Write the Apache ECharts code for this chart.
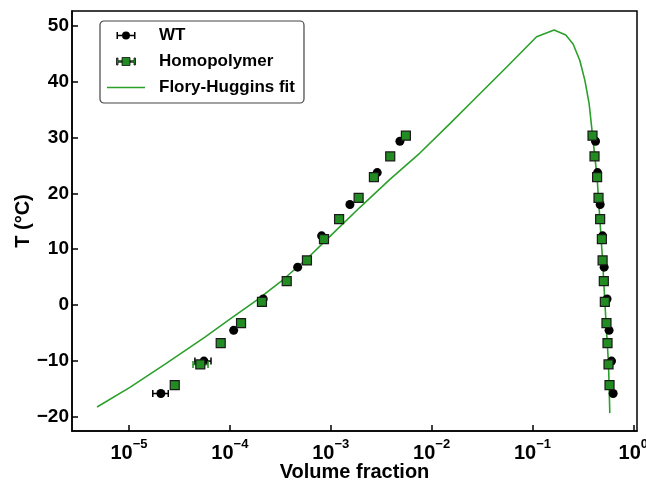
<!DOCTYPE html>
<html>
<head>
<meta charset="utf-8">
<script src="https://cdn.jsdelivr.net/npm/echarts@6/dist/echarts.min.js"></script>
<style>
  html, body { margin: 0; padding: 0; background: #fff; }
  #chart { width: 646px; height: 482px; }
</style>
</head>
<body>
<div id="chart"></div>
<script>
// --- data ---
const xTicks = [1e-5, 1e-4, 1e-3, 1e-2, 1e-1, 1];
const yTicks = [-20, -10, 0, 10, 20, 30, 40, 50];

// WT (black circles)
const wtT = [-15.8, -10.0, -4.5, 1.1, 6.8, 12.4, 18.0, 23.7, 29.3];
const wtDilute = [2.07e-5, 5.53e-5, 1.09e-4, 2.14e-4, 4.70e-4, 8.12e-4, 1.55e-3, 2.89e-3, 4.85e-3];
const wtDense = [0.631, 0.608, 0.575, 0.549, 0.514, 0.496, 0.469, 0.442, 0.422];
const wtErrLo = [1.72e-5, 4.5e-5];
const wtErrHi = [2.45e-5, 6.5e-5];

// Homopolymer (green squares)
const homoT = [-14.3, -10.6, -6.8, -3.2, 0.6, 4.3, 8.0, 11.8, 15.4, 19.2, 22.9, 26.6, 30.3];
const homoDilute = [2.84e-5, 5.09e-5, 8.11e-5, 1.29e-4, 2.08e-4, 3.66e-4, 5.81e-4, 8.57e-4, 1.21e-3, 1.89e-3, 2.68e-3, 3.89e-3, 5.56e-3];
const homoDense = [0.581, 0.568, 0.555, 0.542, 0.522, 0.510, 0.496, 0.488, 0.469, 0.452, 0.4375, 0.4125, 0.394];
const homoErrLo = [4.31e-5];
const homoErrHi = [6.07e-5];
const homoErrT = [-10.6];

// Flory-Huggins fit
const fitX = [4.82e-6, 1.02e-5, 2.28e-5, 5.66e-5, 1.0e-4, 1.85e-4, 3.14e-4, 5.81e-4, 9.82e-4, 1.95e-3, 3.86e-3,
  7.65e-3, 1.52e-2, 2.58e-2, 5.53e-2, 0.110, 0.164, 0.214, 0.253, 0.295, 0.331, 0.365, 0.394,
  0.4375, 0.496, 0.522, 0.568, 0.585];
const fitT = [-18.2, -14.7, -10.55, -5.7, -2.5, 0.9, 4.1, 8.3, 12.3, 17.5, 22.5,
  27.2, 32.45, 36.6, 42.55, 48.0, 49.2, 48.3, 46.7, 43.75, 40.2, 36.0, 30.4,
  22.8, 8.0, 0.6, -10.6, -19.3];

const FONT = 'Liberation Sans, Arial, sans-serif';
const GREEN = '#228b22';
const FIT_GREEN = '#2ca02c';

const pairs = (xs, ys) => xs.map((x, i) => [x, ys[i]]);
const wtPoints = pairs(wtDilute, wtT).concat(pairs(wtDense, wtT));
const homoPoints = pairs(homoDilute, homoT).concat(pairs(homoDense, homoT));
const wtErr = wtErrLo.map((lo, i) => [lo, wtErrHi[i], wtT[i]]);
const homoErr = homoErrLo.map((lo, i) => [lo, homoErrHi[i], homoErrT[i]]);

const errorBarItem = (color) => (params, api) => {
  const y = api.value(2);
  const a = api.coord([api.value(0), y]);
  const b = api.coord([api.value(1), y]);
  const c = 3.5;
  const style = { stroke: color, lineWidth: 1.5 };
  return {
    type: 'group',
    children: [
      { type: 'line', shape: { x1: a[0], y1: a[1], x2: b[0], y2: b[1] }, style },
      { type: 'line', shape: { x1: a[0], y1: a[1] - c, x2: a[0], y2: a[1] + c }, style },
      { type: 'line', shape: { x1: b[0], y1: b[1] - c, x2: b[0], y2: b[1] + c }, style }
    ]
  };
};

// legend icons: marker with horizontal error bar
const barsPath = 'M0,0.5 H1.5 V3.25 H5.6 V4.75 H1.5 V7.5 H0 Z M19,0.5 H17.5 V3.25 H13.4 V4.75 H17.5 V7.5 H19 Z ';
const wtIcon = 'path://' + barsPath + 'M5.5,4 A4,4 0 1,0 13.5,4 A4,4 0 1,0 5.5,4 Z';
const homoIcon = 'path://' + barsPath + 'M5.5,0 H13.5 V8 H5.5 Z';
const lineIcon = 'path://M0,0 H38 V1.6 H0 Z';

const supLabel = (v) => {
  const e = Math.round(Math.log10(v));
  return '{b|10}{s|' + (e < 0 ? '\u2212' + (-e) : e) + '}';
};

const chart = echarts.init(document.getElementById('chart'), null, { renderer: 'canvas' });
chart.setOption({
  animation: false,
  backgroundColor: '#fff',
  textStyle: { fontFamily: FONT },
  grid: {
    left: 72, right: 9, top: 11, bottom: 51,
    show: true, borderColor: '#000', borderWidth: 1.5,
    containLabel: false, outerBoundsMode: 'none'
  },
  legend: {
    orient: 'vertical',
    left: 100, top: 21,
    padding: [6, 9, 7, 7],
    itemWidth: 38, itemHeight: 8, itemGap: 9,
    backgroundColor: '#fff',
    borderColor: '#444', borderWidth: 1.2, borderRadius: 4,
    textStyle: { fontFamily: FONT, fontSize: 17, fontWeight: 'bold', color: '#000', padding: [0, 0, 0, 9] },
    data: [
      { name: 'WT', icon: wtIcon, itemStyle: { color: '#000', borderWidth: 0 } },
      { name: 'Homopolymer', icon: homoIcon, itemStyle: { color: GREEN, borderColor: '#111', borderWidth: 0.8 } },
      { name: 'Flory-Huggins fit', icon: lineIcon, itemStyle: { color: FIT_GREEN, borderWidth: 0 } }
    ]
  },
  xAxis: {
    type: 'log', logBase: 10,
    min: 2.72e-6, max: 1.088,
    name: 'Volume fraction', nameLocation: 'middle', nameGap: 31, nameMoveOverlap: false,
    nameTextStyle: { fontFamily: FONT, fontSize: 20, fontWeight: 'bold', color: '#000' },
    axisLine: { show: true, onZero: false, lineStyle: { color: '#000', width: 1.5 } },
    axisTick: { show: true, inside: true, length: 6, customValues: xTicks, lineStyle: { color: '#000', width: 1.5 } },
    minorTick: { show: false },
    splitLine: { show: false },
    axisLabel: {
      customValues: xTicks, margin: 7, formatter: supLabel,
      rich: {
        b: { fontFamily: FONT, fontSize: 20, fontWeight: 'bold', color: '#000', lineHeight: 20, padding: [11, 0, 0, 0] },
        s: { fontFamily: FONT, fontSize: 13, fontWeight: 'bold', color: '#000', lineHeight: 14, verticalAlign: 'top' }
      }
    }
  },
  yAxis: {
    type: 'value',
    min: -22.5, max: 52.6,
    name: 'T (\u00b0C)', nameLocation: 'middle', nameGap: 39, nameRotate: 90, nameMoveOverlap: false,
    nameTextStyle: { fontFamily: FONT, fontSize: 20, fontWeight: 'bold', color: '#000' },
    axisLine: { show: true, onZero: false, lineStyle: { color: '#000', width: 1.5 } },
    axisTick: { show: true, inside: true, length: 6, customValues: yTicks, lineStyle: { color: '#000', width: 1.5 } },
    splitLine: { show: false },
    axisLabel: {
      customValues: yTicks, margin: 3,
      fontFamily: FONT, fontSize: 19, fontWeight: 'bold', color: '#000',
      formatter: (v) => (v < 0 ? '\u2212' + (-v) : String(v))
    }
  },
  series: [
    {
      name: 'Flory-Huggins fit', type: 'line',
      data: pairs(fitX, fitT),
      showSymbol: false, smooth: false,
      lineStyle: { color: FIT_GREEN, width: 1.6 },
      itemStyle: { color: FIT_GREEN },
      z: 2
    },
    {
      name: 'wt-err', type: 'custom',
      data: wtErr, encode: { x: [0, 1], y: 2 },
      renderItem: errorBarItem('#000'), z: 3, silent: true
    },
    {
      name: 'WT', type: 'scatter',
      data: wtPoints, symbol: 'circle', symbolSize: 9,
      itemStyle: { color: '#000', opacity: 1 },
      z: 4
    },
    {
      name: 'homo-err', type: 'custom',
      data: homoErr, encode: { x: [0, 1], y: 2 },
      renderItem: errorBarItem(GREEN), z: 5, silent: true
    },
    {
      name: 'Homopolymer', type: 'scatter',
      data: homoPoints, symbol: 'rect', symbolSize: 9,
      itemStyle: { color: GREEN, borderColor: '#1a1a1a', borderWidth: 1.2, opacity: 1 },
      z: 6
    }
  ]
});
</script>
</body>
</html>
